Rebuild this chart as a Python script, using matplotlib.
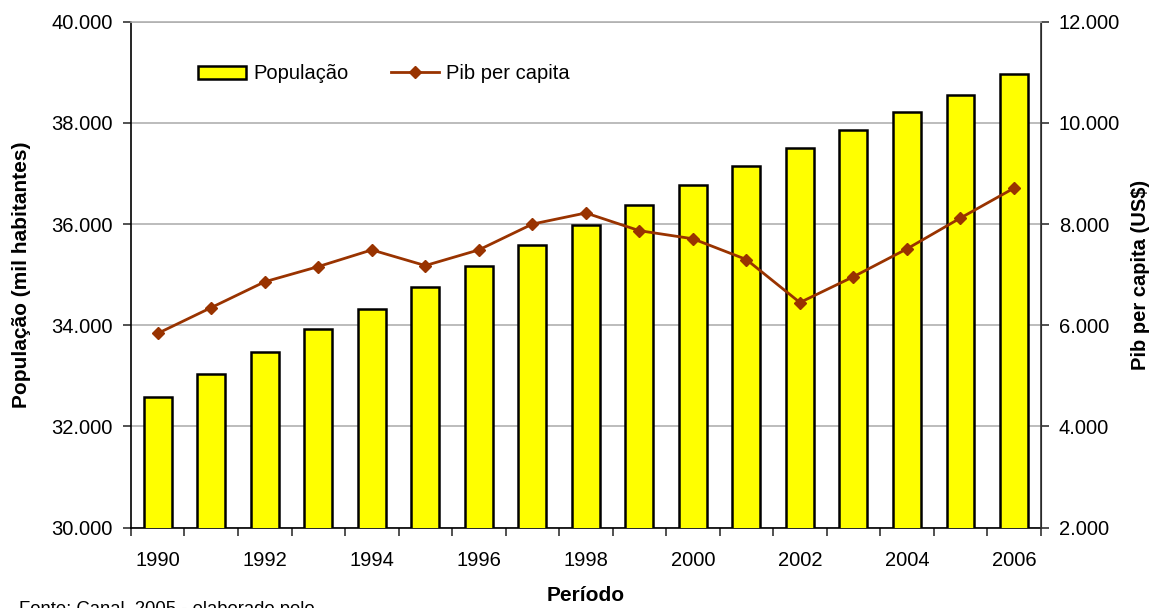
import numpy as np
import matplotlib.pyplot as plt
from matplotlib.ticker import FuncFormatter, MultipleLocator

plt.rcParams['font.family'] = ['Liberation Sans', 'DejaVu Sans']

# dados
anos = [1990, 1991, 1992, 1993, 1994, 1995, 1996, 1997, 1998,
        1999, 2000, 2001, 2002, 2003, 2004, 2005, 2006]
populacao = [32580, 33030, 33465, 33920, 34330, 34760, 35180, 35590, 35980,
             36380, 36770, 37150, 37500, 37850, 38210, 38560, 38960]
pib_per_capita = [5840, 6350, 6860, 7160, 7490, 7180, 7490, 8000, 8220,
                  7870, 7710, 7300, 6450, 6960, 7510, 8120, 8710]
anos_rotulo = anos[::2]

def milhar(v, pos):
    return f'{v:,.0f}'.replace(',', '.')

fs = 14.5
fig = plt.figure(figsize=(11.58, 6.08), dpi=100)
ax = fig.add_axes([0.1131, 0.1321, 0.7856, 0.8322])
ax2 = ax.twinx()

x = np.arange(len(anos))
ax.bar(x, populacao, width=0.52, color='#ffff00', edgecolor='black', linewidth=1.8,
       label='População', zorder=3)
ax2.plot(x, pib_per_capita, color='#993300', linewidth=2, marker='D', markersize=6,
         label='Pib per capita', zorder=4)

ax.set_xlim(-0.5, len(anos) - 0.5)
ax.set_ylim(30000, 40000)
ax2.set_ylim(2000, 12000)
ax.yaxis.set_major_locator(MultipleLocator(2000))
ax2.yaxis.set_major_locator(MultipleLocator(2000))
ax.yaxis.set_major_formatter(FuncFormatter(milhar))
ax2.yaxis.set_major_formatter(FuncFormatter(milhar))
ax.yaxis.grid(True, color='#b0b0b0', linewidth=1.2, zorder=0)
ax.set_axisbelow(True)

# ticks nos limites das categorias, rotulos a cada 2 anos no centro
ax.set_xticks(np.arange(-0.5, len(anos) + 0.5, 1.0))
ax.set_xticklabels([])
ax.set_xticks([anos.index(a) for a in anos_rotulo], minor=True)
ax.set_xticklabels([str(a) for a in anos_rotulo], minor=True)
ax.tick_params(axis='x', which='major', length=6, width=1.2, color='#333333')
ax.tick_params(axis='x', which='minor', length=0, pad=17, labelsize=fs)
ax.tick_params(axis='y', length=6, width=1.2, color='#333333', labelsize=fs, pad=7)
ax2.tick_params(axis='y', length=6, width=1.2, color='#333333', labelsize=fs, pad=7)

for s in ['left', 'bottom']:
    ax.spines[s].set_color('black')
    ax.spines[s].set_linewidth(1.2)
ax2.spines['right'].set_color('#333333')
ax2.spines['right'].set_linewidth(1.2)
ax2.spines['top'].set_color('#b0b0b0')
ax2.spines['top'].set_linewidth(1.2)
ax.spines['top'].set_visible(False)
ax2.spines['left'].set_visible(False)
ax2.spines['bottom'].set_visible(False)

ax.set_ylabel('População (mil habitantes)', fontsize=15, fontweight='bold', labelpad=15)
ax2.set_ylabel('Pib per capita (US$)', fontsize=14.5, fontweight='bold', labelpad=8)
ax.set_xlabel('Período', fontsize=15, fontweight='bold', labelpad=11)

h1, l1 = ax.get_legend_handles_labels()
h2, l2 = ax2.get_legend_handles_labels()
ax2.legend(h1 + h2, l1 + l2, loc='upper left', bbox_to_anchor=(0.0736, 0.916), ncol=2,
           frameon=False, fontsize=fs, handlelength=2.4, handleheight=0.6,
           columnspacing=2.1, handletextpad=0.35, borderpad=0, borderaxespad=0)

fig.text(0.016, 0.0115, 'Fonte: Canal, 2005 - elaborado pelo', fontsize=13.3, va='top')

fig.savefig('out.png', dpi=100)
